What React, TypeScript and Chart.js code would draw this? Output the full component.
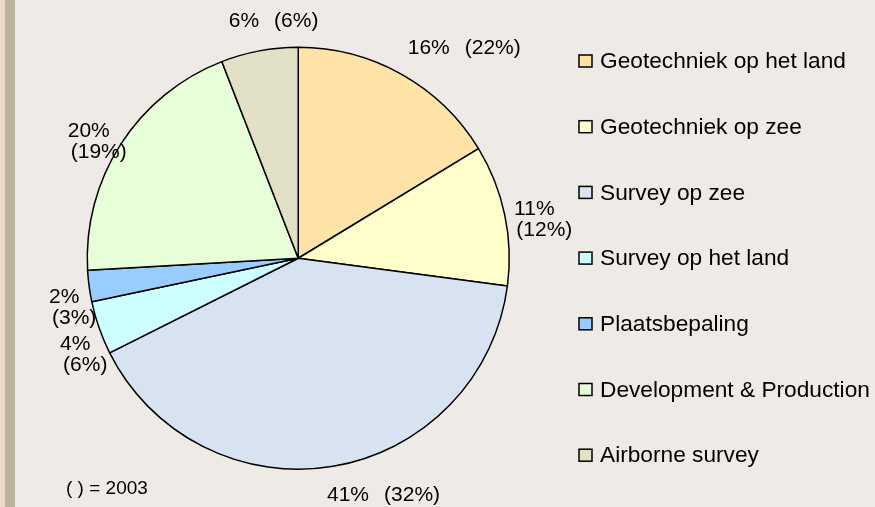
import { useEffect, useRef } from "react";
import { Chart, registerables } from "chart.js";

Chart.register(...registerables);

// ---- data ----
const categories = [
  "Geotechniek op het land",
  "Geotechniek op zee",
  "Survey op zee",
  "Survey op het land",
  "Plaatsbepaling",
  "Development & Production",
  "Airborne survey",
];
const share2004 = [16.3, 10.8, 40.5, 4.1, 2.4, 20.0, 5.9];
const labels2004 = ["16%", "11%", "41%", "4%", "2%", "20%", "6%"];
const labels2003 = ["(22%)", "(12%)", "(32%)", "(6%)", "(3%)", "(19%)", "(6%)"];
const sliceColors = ["#FFE2A6", "#FFFFCC", "#D7E3F0", "#CCFFFF", "#99CCFF", "#E6FFD8", "#E2E0C6"];
const noteText = "( ) = 2003";

const FONT = "'Liberation Sans', Arial, sans-serif";
const WRAPPED = [false, true, false, true, true, true, false];
const NUDGE = [
  [7, 0],
  [0, -1],
  [8, -1],
  [0, 10],
  [0, 9],
  [-6, -2],
  [-9, 0],
];

const labelPlugin = {
  id: "sliceLabels",
  afterDatasetsDraw(chart: any) {
    const ctx = chart.ctx as CanvasRenderingContext2D;
    const meta = chart.getDatasetMeta(0);
    ctx.save();
    ctx.fillStyle = "#000";
    ctx.textBaseline = "middle";
    ctx.font = `21px ${FONT}`;
    meta.data.forEach((arc: any, i: number) => {
      const { x, y, startAngle, endAngle, outerRadius } = arc.getProps(
        ["x", "y", "startAngle", "endAngle", "outerRadius"],
        true
      );
      const mid = (startAngle + endAngle) / 2;
      const wrap = WRAPPED[i];
      const gap = wrap ? 10 : 20;
      const ax = x + Math.cos(mid) * (outerRadius + gap);
      const ay = y + Math.sin(mid) * (outerRadius + gap);
      const t1 = labels2004[i];
      const w = ctx.measureText(t1).width;
      const h = 20;
      const cx = ax + (Math.cos(mid) * w) / 2 + NUDGE[i][0];
      const cy = ay + (Math.sin(mid) * h) / 2 + NUDGE[i][1];
      if (wrap) {
        ctx.textAlign = "center";
        ctx.fillText(t1, cx, cy);
        ctx.fillText(labels2003[i], cx + 10, cy + 21);
      } else {
        ctx.textAlign = "left";
        ctx.fillText(t1, cx - w / 2, cy);
        ctx.fillText(labels2003[i], cx + w / 2 + 15, cy);
      }
    });

    // note
    ctx.textAlign = "left";
    ctx.font = `19px ${FONT}`;
    ctx.fillText(noteText, 66, 489);

    // legend
    ctx.font = `22.7px ${FONT}`;
    const lx = 579;
    const ly0 = 61;
    const step = 65.7;
    categories.forEach((c, i) => {
      const cy = ly0 + i * step;
      ctx.fillStyle = sliceColors[i];
      ctx.fillRect(lx, cy - 6, 13, 12);
      ctx.strokeStyle = "#000";
      ctx.lineWidth = 1.5;
      ctx.strokeRect(lx, cy - 6, 13, 12);
      ctx.fillStyle = "#000";
      ctx.fillText(c, 600, cy + 1);
    });
    ctx.restore();
  },
};

export default function App() {
  const ref = useRef<HTMLCanvasElement>(null);
  useEffect(() => {
    if (!ref.current) return;
    const chart = new Chart(ref.current, {
      type: "pie",
      data: {
        labels: categories,
        datasets: [
          {
            data: share2004,
            backgroundColor: sliceColors,
            borderColor: "#000",
            borderWidth: 1.5,
            hoverOffset: 0,
          },
        ],
      },
      options: {
        animation: false,
        responsive: false,
        devicePixelRatio: 1,
        layout: { padding: { left: 86.5, right: 365, top: 46.5, bottom: 37 } },
        plugins: {
          legend: { display: false },
          tooltip: { enabled: false },
        },
      },
      plugins: [labelPlugin],
    });
    return () => chart.destroy();
  }, []);

  return (
    <div
      style={{
        position: "fixed",
        left: 0,
        top: 0,
        width: 875,
        height: 507,
        background:
          "linear-gradient(to right, #EDDCC5 0px, #EDDCC5 5px, #BEB39D 5px, #BEB39D 15px, #EEEBE6 15px)",
      }}
    >
      <canvas ref={ref} width={875} height={507} style={{ display: "block" }} />
    </div>
  );
}
